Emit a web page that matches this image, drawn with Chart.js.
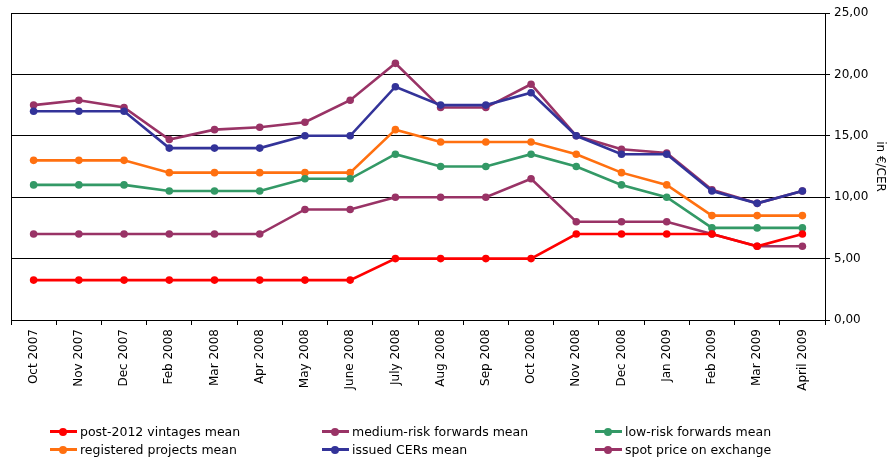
<!DOCTYPE html>
<html>
<head>
<meta charset="utf-8">
<script src="https://cdn.jsdelivr.net/npm/chart.js@4/dist/chart.umd.min.js"></script>
<style>
  html, body { margin: 0; padding: 0; background: #fff; }
  #wrap { position: relative; width: 892px; height: 460px; }
  #chart { position: absolute; left: 0; top: 0; }
  .lg { position: absolute; display: flex; align-items: center; height: 16px;
        font-family: "DejaVu Sans", Verdana, sans-serif; font-size: 12.5px; color: #000; white-space: nowrap; }
  .lg .mk { position: relative; width: 27px; height: 16px; margin-right: 3px; }
  .lg .mk i { position: absolute; left: 0; right: 0; top: 7px; height: 3px; }
  .lg .mk b { position: absolute; left: 9px; top: 4.5px; width: 8px; height: 8px; border-radius: 50%; }
</style>
</head>
<body>
<div id="wrap">
  <canvas id="chart" width="892" height="460"></canvas>
</div>
<script>
// Monthly CER price survey, in €/CER
const months = ["Oct 2007", "Nov 2007", "Dec 2007", "Feb 2008", "Mar 2008", "Apr 2008",
                "May 2008", "June 2008", "July 2008", "Aug 2008", "Sep 2008", "Oct 2008",
                "Nov 2008", "Dec 2008", "Jan 2009", "Feb 2009", "Mar 2009", "April 2009"];

const post2012Vintages = [3.25, 3.25, 3.25, 3.25, 3.25, 3.25, 3.25, 3.25, 5, 5, 5, 5, 7, 7, 7, 7, 6, 7];
const mediumRiskForwards = [7, 7, 7, 7, 7, 7, 9, 9, 10, 10, 10, 11.5, 8, 8, 8, 7, 6, 6];
const lowRiskForwards = [11, 11, 11, 10.5, 10.5, 10.5, 11.5, 11.5, 13.5, 12.5, 12.5, 13.5, 12.5, 11, 10, 7.5, 7.5, 7.5];
const registeredProjects = [13, 13, 13, 12, 12, 12, 12, 12, 15.5, 14.5, 14.5, 14.5, 13.5, 12, 11, 8.5, 8.5, 8.5];
const issuedCERs = [17, 17, 17, 14, 14, 14, 15, 15, 19, 17.5, 17.5, 18.5, 15, 13.5, 13.5, 10.5, 9.5, 10.5];
const spotPrice = [17.5, 17.9, 17.3, 14.7, 15.5, 15.7, 16.1, 17.9, 20.9, 17.3, 17.3, 19.2, 15, 13.9, 13.6, 10.6, 9.5, 10.5];

const yTicks = [0, 5, 10, 15, 20, 25];

const FONT = '"DejaVu Sans", Verdana, sans-serif';

function series(label, data, color) {
  return {
    label, data,
    borderColor: color, backgroundColor: color,
    borderWidth: 2.6,
    pointRadius: 3.8, pointHoverRadius: 3.8,
    pointBorderWidth: 0,
    pointBackgroundColor: color,
    tension: 0
  };
}

const datasets = [
  series("post-2012 vintages mean", post2012Vintages, "#FF0000"),
  series("medium-risk forwards mean", mediumRiskForwards, "#993366"),
  series("low-risk forwards mean", lowRiskForwards, "#339966"),
  series("registered projects mean", registeredProjects, "#FF7010"),
  series("issued CERs mean", issuedCERs, "#333399"),
  series("spot price on exchange", spotPrice, "#993366")
];

// left edge of the plot frame
const frame = {
  id: "frame",
  beforeDatasetsDraw(chart) {
    const { ctx, chartArea: a } = chart;
    ctx.save();
    ctx.strokeStyle = "#000";
    ctx.lineWidth = 1;
    ctx.beginPath();
    ctx.moveTo(a.left + 0.5, a.top);
    ctx.lineTo(a.left + 0.5, a.bottom);
    ctx.stroke();
    ctx.restore();
  }
};

const chart = new Chart(document.getElementById("chart"), {
  type: "line",
  data: { labels: months, datasets },
  plugins: [frame],
  options: {
    responsive: false,
    animation: false,
    layout: { padding: { left: 11, top: 13, right: 0, bottom: 0 } },
    plugins: { legend: { display: false }, tooltip: { enabled: false } },
    scales: {
      x: {
        offset: true,
        grid: { offset: true, drawOnChartArea: false, drawTicks: true, tickLength: 5, color: "#000" },
        border: { display: true, color: "#000", width: 1 },
        ticks: {
          autoSkip: false, maxRotation: 90, minRotation: 90, padding: 4,
          color: "#000", font: { family: FONT, size: 12 }
        },
        afterFit(scale) { scale.height = 140; }
      },
      y: {
        position: "right",
        min: yTicks[0], max: yTicks[yTicks.length - 1],
        afterBuildTicks(scale) { scale.ticks = yTicks.map(v => ({ value: v })); },
        grid: { color: "#000", lineWidth: 1, drawTicks: true, tickLength: 5 },
        border: { display: true, color: "#000", width: 1 },
        ticks: {
          padding: 4, color: "#000", font: { family: FONT, size: 12 },
          callback: v => v.toFixed(2).replace(".", ",")
        },
        title: { display: true, text: "in €/CER", color: "#000", font: { family: FONT, size: 12 }, padding: { top: 5, bottom: 2 } },
        afterFit(scale) { scale.width = 67; }
      }
    }
  }
});

// three-column legend below the plot
const wrap = document.getElementById("wrap");
const cols = [50, 322, 595];
const rows = [423, 441];
chart.data.datasets.forEach((ds, i) => {
  const el = document.createElement("div");
  el.className = "lg";
  el.style.left = cols[i % 3] + "px";
  el.style.top = rows[Math.floor(i / 3)] + "px";
  el.innerHTML = '<span class="mk"><i style="background:' + ds.borderColor + '"></i><b style="background:' +
    ds.borderColor + '"></b></span>';
  const t = document.createElement("span");
  t.textContent = ds.label;
  el.appendChild(t);
  wrap.appendChild(el);
});
</script>
</body>
</html>
